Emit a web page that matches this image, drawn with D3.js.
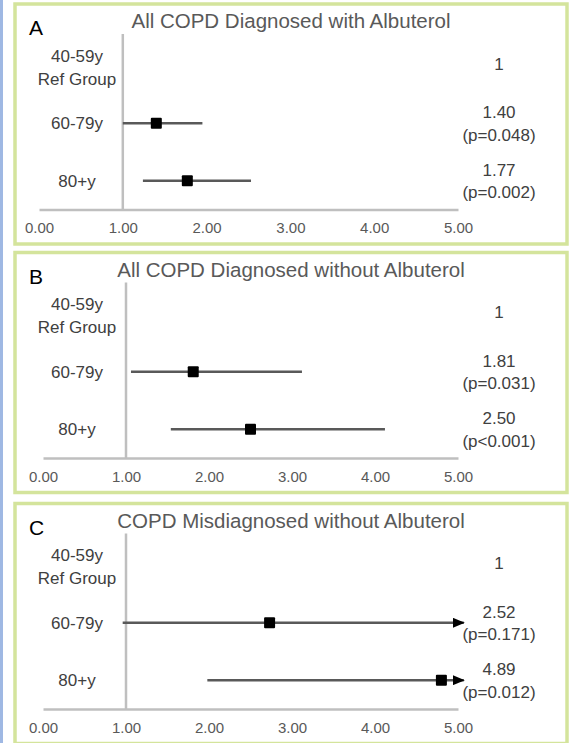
<!DOCTYPE html>
<html>
<head>
<meta charset="utf-8">
<script src="https://cdn.jsdelivr.net/npm/d3@7/dist/d3.min.js"></script>
<style>
  body { margin: 0; background: #fff; }
  svg { display: block; font-family: "Liberation Sans", Arial, sans-serif; }
</style>
</head>
<body>
<div id="chart"></div>
<script>
// panel data
const panelLetters = ['A', 'B', 'C'];
const panelTitles = [
  'All COPD Diagnosed with Albuterol',
  'All COPD Diagnosed without Albuterol',
  'COPD Misdiagnosed without Albuterol'
];
const ageGroups = ['60-79y', '80+y'];
const refLabel = ['40-59y', 'Ref Group'];
const refValue = '1';

// odds ratios (marker position) and confidence interval ends, per panel
const pointEst = [[1.40, 1.77], [1.81, 2.50], [2.73, 4.80]];
const ciLow = [[1.00, 1.24], [1.06, 1.54], [0.96, 1.98]];
const ciHigh = [[1.95, 2.53], [3.12, 4.12], [5.07, 5.07]];
const ciArrow = [[false, false], [false, false], [true, true]];
const orText = [['1.40', '1.77'], ['1.81', '2.50'], ['2.52', '4.89']];
const pText = [['(p=0.048)', '(p=0.002)'], ['(p=0.031)', '(p<0.001)'], ['(p=0.171)', '(p=0.012)']];
const xTicks = [0, 1, 2, 3, 4, 5];

const W = 571, H = 743;
const panelTop = [4, 252.5, 503.5];
const plotLeft = [39, 43, 43];

const svg = d3.select('#chart').append('svg')
  .attr('width', W)
  .attr('height', H);

svg.append('defs').append('marker')
  .attr('id', 'arrow')
  .attr('markerUnits', 'userSpaceOnUse')
  .attr('viewBox', '0 0 12 10')
  .attr('refX', 11).attr('refY', 5)
  .attr('markerWidth', 12).attr('markerHeight', 10)
  .attr('orient', 'auto')
  .append('path')
  .attr('d', 'M0,0 L12,5 L0,10 Z')
  .attr('fill', '#000');

// blue strip on the very left
svg.append('rect')
  .attr('x', 0).attr('y', 0)
  .attr('width', 3).attr('height', H)
  .attr('fill', '#9fb8e3');

const y = d3.scaleLinear().domain([0.5, 3.5]).range([205.5, 33]);

panelLetters.forEach((letter, i) => {
  const g = svg.append('g').attr('transform', 'translate(0,' + panelTop[i] + ')');
  const x = d3.scaleLinear().domain([0, 5]).range([plotLeft[i], 458]);

  g.append('rect')
    .attr('x', 15).attr('y', 0)
    .attr('width', 552).attr('height', 240)
    .attr('fill', '#fff')
    .attr('stroke', '#d4e49c')
    .attr('stroke-width', 3.5);

  g.append('text')
    .attr('x', 29).attr('y', 24)
    .attr('dy', '0.35em')
    .style('font-size', '21px')
    .attr('fill', '#000')
    .text(letter);

  g.append('text')
    .attr('x', 291).attr('y', 17)
    .attr('dy', '0.35em')
    .attr('text-anchor', 'middle')
    .style('font-size', '20.5px')
    .attr('fill', '#595959')
    .text(panelTitles[i]);

  // x axis
  const xAxis = g.append('g')
    .attr('transform', 'translate(0,' + y(0.5) + ')')
    .call(d3.axisBottom(x).tickValues(xTicks).tickFormat(d3.format('.2f')).tickSize(0).tickPadding(13));
  xAxis.select('.domain').attr('stroke', '#bfbfbf').attr('stroke-width', 2.5);
  xAxis.selectAll('text')
    .style('font-size', '15px')
    .style('font-family', '"Liberation Sans", Arial, sans-serif')
    .attr('fill', '#595959');

  // vertical reference line at 1
  g.append('line')
    .attr('x1', x(1)).attr('x2', x(1))
    .attr('y1', y(3.5) - 3).attr('y2', y(0.5))
    .attr('stroke', '#bfbfbf')
    .attr('stroke-width', 2.5);

  // reference group
  refLabel.forEach((t, k) => {
    g.append('text')
      .attr('x', 77).attr('y', y(3) - 10 + k * 23)
      .attr('dy', '0.35em')
      .attr('text-anchor', 'middle')
      .style('font-size', '17px')
      .attr('fill', '#404040')
      .text(t);
  });
  g.append('text')
    .attr('x', 499).attr('y', y(3) - 2)
    .attr('dy', '0.35em')
    .attr('text-anchor', 'middle')
    .style('font-size', '17px')
    .attr('fill', '#404040')
    .text(refValue);

  const rows = ageGroups.map((label, k) => ({
    label: label,
    row: 2 - k,
    est: pointEst[i][k],
    lo: ciLow[i][k],
    hi: ciHigh[i][k],
    arrow: ciArrow[i][k],
    or: orText[i][k],
    p: pText[i][k]
  }));

  g.selectAll('.row-label')
    .data(rows)
    .enter().append('text')
    .attr('x', 77).attr('y', d => y(d.row))
    .attr('dy', '0.35em')
    .attr('text-anchor', 'middle')
    .style('font-size', '17px')
    .attr('fill', '#404040')
    .text(d => d.label);

  g.selectAll('.ci')
    .data(rows)
    .enter().append('line')
    .attr('x1', d => x(d.lo))
    .attr('x2', d => x(d.hi))
    .attr('y1', d => y(d.row))
    .attr('y2', d => y(d.row))
    .attr('stroke', '#595959')
    .attr('stroke-width', 2.5)
    .attr('marker-end', d => d.arrow ? 'url(#arrow)' : null);

  g.selectAll('.est')
    .data(rows)
    .enter().append('rect')
    .attr('x', d => x(d.est) - 5.5)
    .attr('y', d => y(d.row) - 5.5)
    .attr('width', 11).attr('height', 11)
    .attr('rx', 1)
    .attr('fill', '#000');

  g.selectAll('.or-text')
    .data(rows)
    .enter().append('text')
    .attr('x', 499).attr('y', d => y(d.row) - 11)
    .attr('dy', '0.35em')
    .attr('text-anchor', 'middle')
    .style('font-size', '17px')
    .attr('fill', '#404040')
    .text(d => d.or);

  g.selectAll('.p-text')
    .data(rows)
    .enter().append('text')
    .attr('x', 499).attr('y', d => y(d.row) + 11.5)
    .attr('dy', '0.35em')
    .attr('text-anchor', 'middle')
    .style('font-size', '17px')
    .attr('fill', '#404040')
    .text(d => d.p);
});
</script>
</body>
</html>
